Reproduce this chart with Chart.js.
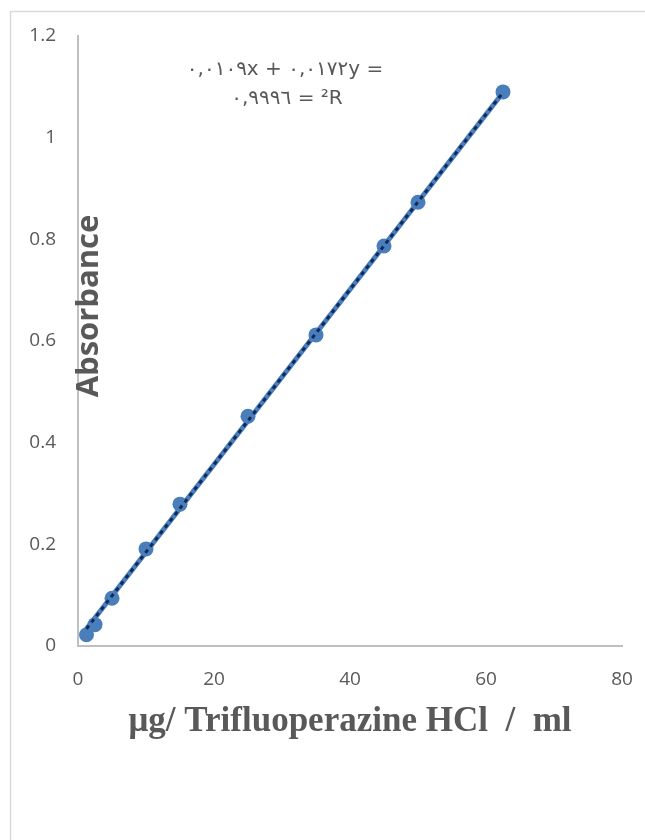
<!DOCTYPE html>
<html>
<head>
<meta charset="utf-8">
<script src="https://cdn.jsdelivr.net/npm/chart.js@4"></script>
<style>
html,body{margin:0;padding:0;background:#fff;}
#wrap{position:relative;width:645px;height:840px;}
</style>
</head>
<body>
<div id="wrap"><canvas id="c" width="645" height="840"></canvas></div>
<script>
// ---- data ----
const concentrations = [1.25, 2.5, 5, 10, 15, 25, 35, 45, 50, 62.5];
const absorbances = [0.022, 0.042, 0.094, 0.191, 0.279, 0.452, 0.612, 0.787, 0.873, 1.090];
const trendX = [1.25, 62.5];
const trendY = [0.034, 1.089];
const yTickLabels = ['0', '0.2', '0.4', '0.6', '0.8', '1', '1.2'];
const xTickLabels = ['0', '20', '40', '60', '80'];
const equationLine1 = '\u202D٠,٠١٠٩x + ٠,٠١٧٢y =\u202C';
const equationLine2 = '\u202D٠,٩٩٩٦ = ²R\u202C';
const xTitle = 'μg/ Trifluoperazine HCl  /  ml';
const yTitle = 'Absorbance';

const GREY = '#595959';

const frame = {
  id: 'frame',
  beforeDraw(chart) {
    const ctx = chart.ctx;
    ctx.save();
    ctx.fillStyle = '#fff';
    ctx.fillRect(0, 0, chart.width, chart.height);
    ctx.strokeStyle = '#d9d9d9';
    ctx.lineWidth = 1.5;
    ctx.strokeRect(10.5, 11.5, 1000, 1000);
    ctx.restore();
  },
  afterDraw(chart) {
    const ctx = chart.ctx;
    ctx.save();
    ctx.fillStyle = GREY;
    ctx.font = 'bold 31px "Open Sans", sans-serif';
    ctx.textAlign = 'center';
    ctx.textBaseline = 'middle';
    ctx.translate(89, 306);
    ctx.rotate(-Math.PI / 2);
    ctx.fillText(yTitle, 0, 0);
    ctx.restore();

    ctx.save();
    ctx.fillStyle = GREY;
    ctx.font = '20px "DejaVu Sans", "Open Sans", sans-serif';
    ctx.textAlign = 'center';
    ctx.textBaseline = 'middle';
    ctx.direction = 'ltr';
    ctx.fillText(equationLine1, 285, 70);
    ctx.fillText(equationLine2, 287, 99);
    ctx.restore();
  }
};

new Chart(document.getElementById('c'), {
  type: 'scatter',
  data: {
    datasets: [
      {
        label: 'Linear (dots)',
        data: trendX.map((x, i) => ({x: x, y: trendY[i]})),
        showLine: true,
        borderColor: '#0f2a5c',
        borderWidth: 3,
        borderDash: [4, 4],
        pointRadius: 0,
        fill: false
      },
      {
        label: 'Linear',
        data: trendX.map((x, i) => ({x: x, y: trendY[i]})),
        showLine: true,
        borderColor: '#4a7ebb',
        borderWidth: 5,
        pointRadius: 0,
        fill: false
      },
      {
        label: 'Absorbance',
        data: concentrations.map((x, i) => ({x: x, y: absorbances[i]})),
        showLine: false,
        backgroundColor: '#4a7ebb',
        pointBackgroundColor: '#4a7ebb',
        pointBorderColor: '#4a7ebb',
        pointRadius: 7.5,
        pointBorderWidth: 0
      }
    ]
  },
  options: {
    responsive: false,
    animation: false,
    devicePixelRatio: 1,
    layout: { padding: { left: 0, right: 23, top: 36, bottom: 97 } },
    plugins: { legend: { display: false }, tooltip: { enabled: false } },
    scales: {
      x: {
        type: 'linear',
        min: 0, max: 80,
        afterBuildTicks(scale) { scale.ticks = xTickLabels.map(v => ({value: Number(v)})); },
        ticks: {
          callback: (v) => xTickLabels.find(t => Number(t) === v),
          color: GREY,
          font: { family: '"Open Sans", sans-serif', size: 19 },
          padding: 22,
          maxRotation: 0
        },
        grid: { display: false, drawTicks: false },
        border: { display: true, color: '#bfbfbf', width: 2 },
        title: {
          display: true,
          text: xTitle,
          color: GREY,
          font: { family: '"Liberation Serif", "Times New Roman", serif', size: 35, weight: 'bold', lineHeight: 1.2 },
          padding: 0
        },
        afterFit(scale) { scale.height = 97; scale.paddingLeft = 0; scale.paddingRight = 0; }
      },
      y: {
        type: 'linear',
        min: 0, max: 1.2,
        afterBuildTicks(scale) { scale.ticks = yTickLabels.map(v => ({value: Number(v)})); },
        ticks: {
          callback: (v) => yTickLabels.find(t => Math.abs(Number(t) - v) < 1e-9),
          color: GREY,
          font: { family: '"Open Sans", sans-serif', size: 19 },
          padding: 22
        },
        grid: { display: false, drawTicks: false },
        border: { display: true, color: '#bfbfbf', width: 2 },
        afterFit(scale) { scale.width = 78; scale.paddingTop = 0; scale.paddingBottom = 0; }
      }
    }
  },
  plugins: [frame]
});
</script>
</body>
</html>
